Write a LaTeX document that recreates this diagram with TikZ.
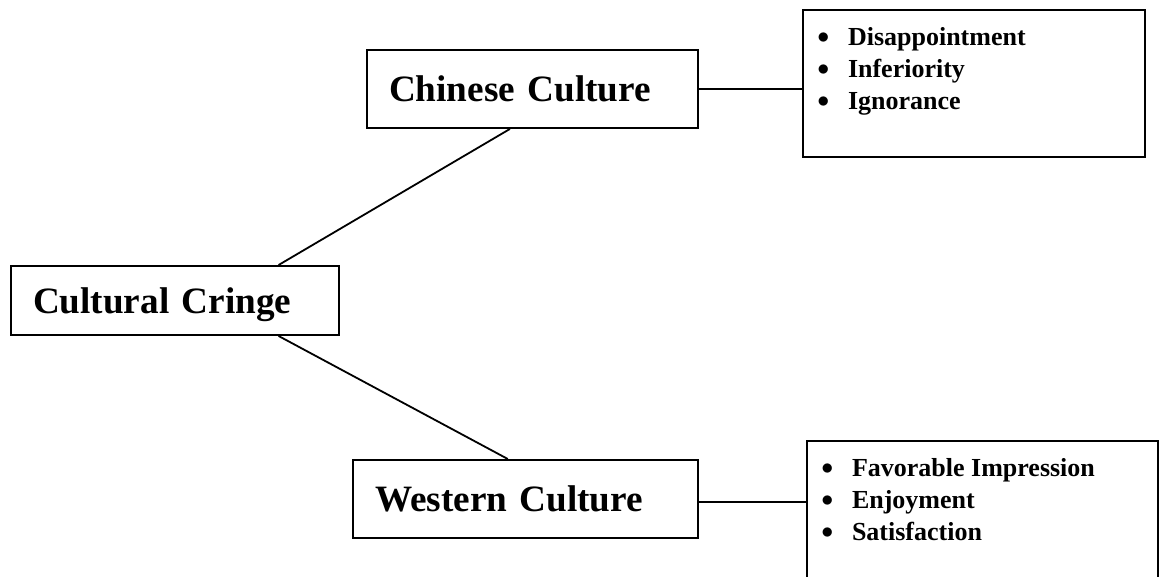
\documentclass[tikz,border=0pt]{standalone}
\usepackage{fontspec}
\setmainfont{Liberation Serif}
\usetikzlibrary{calc}
\tikzset{
	culture/.style={draw, line width=1pt, align=left, inner xsep=11pt,
		font=\fontsize{18.6}{22}\selectfont\bfseries, text height=12.6pt, text depth=0pt},
	feelings/.style={draw, line width=1pt, inner xsep=8pt, inner ysep=0pt,
		font=\fontsize{13}{16}\selectfont\bfseries},
	link/.style={line width=0.9pt}
}
\newcommand{\feel}[1]{\makebox[14.5pt][l]{\hspace*{-0.8pt}\raisebox{1pt}{$\bullet$}}#1\par}

\begin{document}
\begin{tikzpicture}[x=0.5pt, y=-0.5pt]
	\useasboundingbox (0,0) rectangle (1163,577);
	\clip (0,0) rectangle (1163,577);
	\node[culture, text width=142pt, minimum height=34.5pt]   (cc) at (175,300.5) {Cultural Cringe};
	\node[culture, text width=143.5pt, minimum height=39pt]   (cn) at (532.5,89)  {Chinese Culture};
	\node[culture, text width=150.5pt, minimum height=39pt]   (wc) at (525.5,499) {Western Culture};
	\node[feelings] (cnlist) at (974,83.5) {\parbox[c][73.5pt][t]{155pt}{\rule{0pt}{18pt}%
		\feel{Disappointment}\feel{Inferiority}\feel{Ignorance}}};
	\node[feelings] (wclist) at (982.5,520.5) {\parbox[c][79.5pt][t]{159.5pt}{\rule{0pt}{17.5pt}%
		\feel{Favorable Impression}\feel{Enjoyment}\feel{Satisfaction}}};
	\draw[link] ($(cc.north west)!.814!(cc.north east)$) -- ($(cn.south west)!.432!(cn.south east)$);
	\draw[link] ($(cc.south west)!.814!(cc.south east)$) -- ($(wc.north west)!.449!(wc.north east)$);
	\draw[link] (cn.east) -- (cn.east -| cnlist.west);
	\draw[link] ($(wc.east)+(0,3)$) -- ($(wc.east -| wclist.west)+(0,3)$);
\end{tikzpicture}
\end{document}
